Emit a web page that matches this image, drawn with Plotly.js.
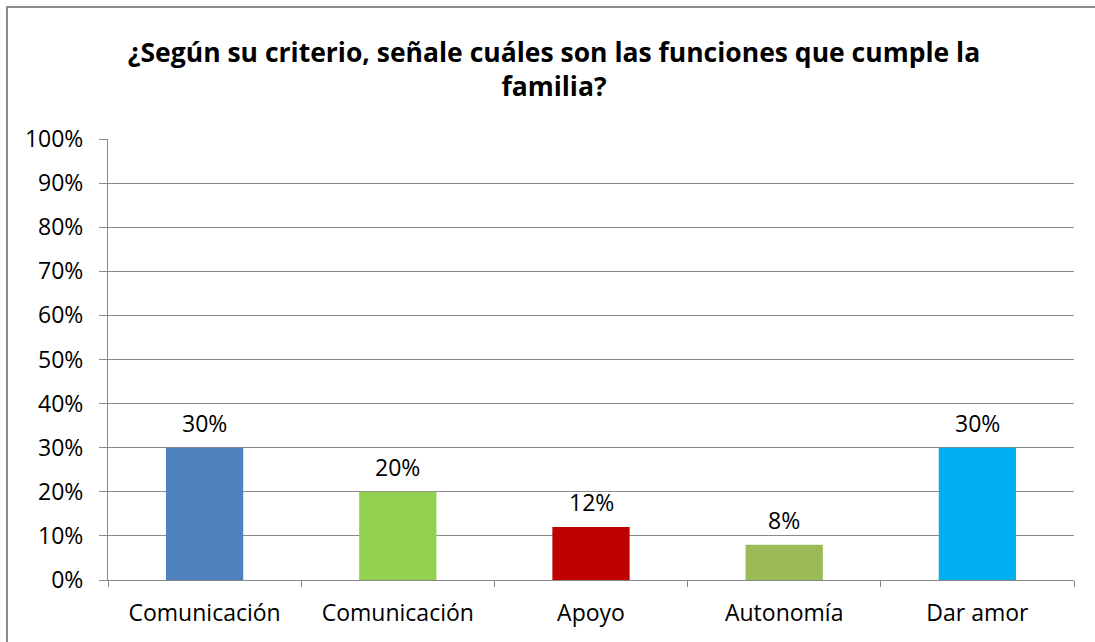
<!DOCTYPE html>
<html>
<head>
<meta charset="utf-8">
<script src="https://cdn.plot.ly/plotly-3.0.1.min.js"></script>
<style>
  html, body { margin: 0; padding: 0; background: #fff; }
  #wrap { position: relative; width: 1095px; height: 642px; overflow: hidden; }
  #chart { position: absolute; left: 0; top: 0; width: 1095px; height: 642px; }
  #frame { position: absolute; left: 6px; top: 6px; width: 1200px; height: 800px;
           border: 2px solid #8c8c8c; box-sizing: border-box; pointer-events: none; }
</style>
</head>
<body>
<div id="wrap">
  <div id="chart"></div>
  <div id="frame"></div>
</div>
<script>
const categories = ["Comunicación", "Comunicación", "Apoyo", "Autonomía", "Dar amor"];
const values = [0.30, 0.20, 0.12, 0.08, 0.30];
const barColors = ["#4F81BD", "#92D050", "#C00000", "#9BBB59", "#00B0F0"];
const titleText = "¿Según su criterio, señale cuáles son las funciones que cumple la<br>familia?";

const positions = categories.map((_, i) => i);
const FONT = "'Open Sans', 'Noto Sans', sans-serif";
const GRID = "#8a8a8a";

const trace = {
  type: "bar",
  x: positions,
  y: values,
  marker: { color: barColors, line: { width: 0 } },
  width: 0.4,
  hoverinfo: "skip",
  showlegend: false
};

const annotations = positions.map((p, i) => ({
  x: p, y: values[i], xref: "x", yref: "y",
  text: Math.round(values[i] * 100) + "%",
  showarrow: false, yanchor: "bottom", yshift: 7,
  font: { family: FONT, size: 23, color: "#000" }
}));

const layout = {
  width: 1095, height: 642,
  paper_bgcolor: "#fff", plot_bgcolor: "#fff",
  margin: { l: 108, r: 21, t: 139, b: 62, pad: 0 },
  title: {
    text: titleText,
    font: { family: FONT, size: 26.5, color: "#000", weight: "bold" },
    x: 554 / 1095, xanchor: "center", xref: "container",
    y: 1 - 62 / 642, yanchor: "top", yref: "container"
  },
  xaxis: {
    type: "linear",
    range: [-0.5, categories.length - 0.5],
    tickvals: positions, ticktext: categories,
    ticks: "", showgrid: false, zeroline: false,
    showline: true, linecolor: GRID, linewidth: 1,
    tickfont: { family: FONT, size: 23, color: "#000" },
    ticklabelstandoff: 12,
    minor: { tick0: 0.5, dtick: 1, ticks: "outside", ticklen: 6, tickcolor: GRID, tickwidth: 1, showgrid: false },
    fixedrange: true
  },
  yaxis: {
    range: [0, 1], dtick: 0.1, tick0: 0, tickformat: ".0%",
    showgrid: true, gridcolor: GRID, gridwidth: 1,
    zeroline: false, showline: true, linecolor: GRID, linewidth: 1,
    ticks: "outside", ticklen: 8, tickcolor: GRID, tickwidth: 1,
    tickfont: { family: FONT, size: 23, color: "#000" },
    ticklabelstandoff: 11,
    fixedrange: true
  },
  annotations: annotations,
  bargap: 0.6
};

Plotly.newPlot("chart", [trace], layout, { displayModeBar: false, staticPlot: true });
</script>
</body>
</html>
